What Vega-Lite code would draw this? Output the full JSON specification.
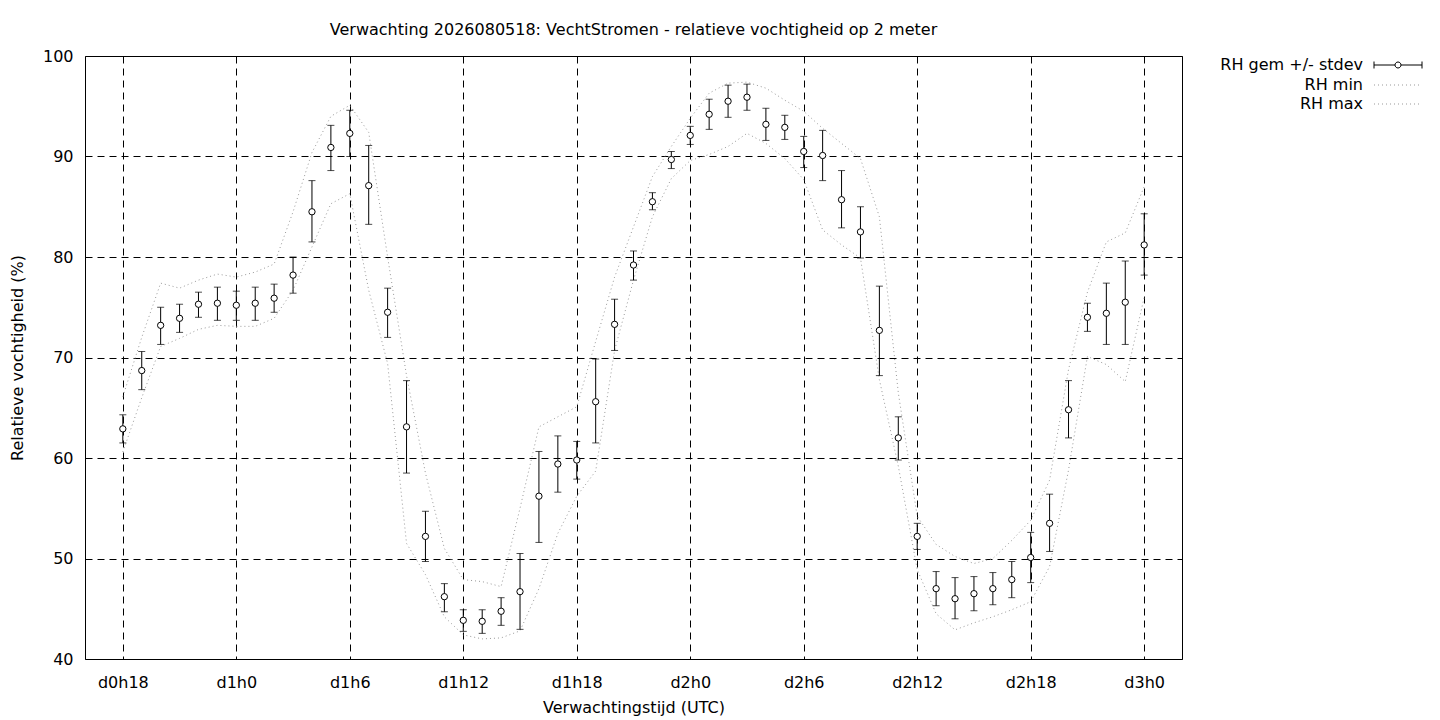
{
  "$schema": "https://vega.github.io/schema/vega-lite/v6.json",
  "width": 1097,
  "height": 603,
  "autosize": {"type": "none"},
  "padding": {"left": 85, "top": 56, "right": 258, "bottom": 61},
  "background": "white",
  "config": {
    "font": "DejaVu Sans",
    "view": {"stroke": "black", "strokeWidth": 1},
    "axis": {
      "domain": false,
      "ticks": false,
      "grid": true,
      "gridColor": "black",
      "gridDash": [7, 5],
      "gridWidth": 1,
      "gridOpacity": 1,
      "labelFontSize": 16,
      "labelColor": "black",
      "titleFontSize": 16,
      "titleFontWeight": "normal",
      "titleColor": "black"
    },
    "legend": {
      "title": null,
      "orient": "none",
      "padding": 0,
      "symbolSize": 100,
      "symbolStrokeWidth": 1,
      "symbolOpacity": 1,
      "labelFontSize": 16,
      "labelColor": "black",
      "labelAlign": "right",
      "labelOffset": -43,
      "rowPadding": 3
    }
  },
  "title": {
    "text": "Verwachting 2026080518: VechtStromen - relatieve vochtigheid op 2 meter",
    "fontSize": 16,
    "fontWeight": "normal",
    "anchor": "middle",
    "frame": "group",
    "offset": 10,
    "color": "black"
  },
  "data": {
    "values": [
      {"hour": 18, "gem": 62.9, "lo": 61.5, "hi": 64.3, "rhmin": 60.6, "rhmax": 66.1},
      {"hour": 19, "gem": 68.7, "lo": 66.8, "hi": 70.6, "rhmin": 66.0, "rhmax": 72.0},
      {"hour": 20, "gem": 73.2, "lo": 71.3, "hi": 75.0, "rhmin": 71.1, "rhmax": 77.4},
      {"hour": 21, "gem": 73.9, "lo": 72.5, "hi": 75.3, "rhmin": 71.9, "rhmax": 76.9},
      {"hour": 22, "gem": 75.3, "lo": 74.0, "hi": 76.5, "rhmin": 72.8, "rhmax": 77.7},
      {"hour": 23, "gem": 75.4, "lo": 73.7, "hi": 77.0, "rhmin": 73.2, "rhmax": 78.3},
      {"hour": 24, "gem": 75.2, "lo": 73.7, "hi": 76.6, "rhmin": 73.1, "rhmax": 78.0},
      {"hour": 25, "gem": 75.4, "lo": 73.7, "hi": 77.0, "rhmin": 73.1, "rhmax": 78.5},
      {"hour": 26, "gem": 75.9, "lo": 74.5, "hi": 77.3, "rhmin": 73.9, "rhmax": 79.3},
      {"hour": 27, "gem": 78.2, "lo": 76.4, "hi": 80.0, "rhmin": 76.7, "rhmax": 84.5},
      {"hour": 28, "gem": 84.5, "lo": 81.5, "hi": 87.6, "rhmin": 81.0, "rhmax": 90.4},
      {"hour": 29, "gem": 90.9, "lo": 88.6, "hi": 93.1, "rhmin": 85.3, "rhmax": 94.0},
      {"hour": 30, "gem": 92.3, "lo": 90.0, "hi": 94.6, "rhmin": 86.3, "rhmax": 95.1},
      {"hour": 31, "gem": 87.1, "lo": 83.25, "hi": 91.1, "rhmin": 76.7, "rhmax": 92.4},
      {"hour": 32, "gem": 74.5, "lo": 72.0, "hi": 76.9, "rhmin": 69.4, "rhmax": 80.0},
      {"hour": 33, "gem": 63.1, "lo": 58.5, "hi": 67.7, "rhmin": 51.5, "rhmax": 68.2},
      {"hour": 34, "gem": 52.2, "lo": 49.7, "hi": 54.7, "rhmin": 48.4, "rhmax": 58.5},
      {"hour": 35, "gem": 46.2, "lo": 44.7, "hi": 47.5, "rhmin": 44.2, "rhmax": 51.0},
      {"hour": 36, "gem": 43.85, "lo": 42.75, "hi": 44.9, "rhmin": 42.4, "rhmax": 47.9},
      {"hour": 37, "gem": 43.75, "lo": 42.55, "hi": 44.9, "rhmin": 42.0, "rhmax": 47.7},
      {"hour": 38, "gem": 44.75, "lo": 43.35, "hi": 46.1, "rhmin": 42.1, "rhmax": 47.2},
      {"hour": 39, "gem": 46.7, "lo": 42.95, "hi": 50.5, "rhmin": 42.8, "rhmax": 55.0},
      {"hour": 40, "gem": 56.2, "lo": 51.6, "hi": 60.65, "rhmin": 47.0, "rhmax": 63.1},
      {"hour": 41, "gem": 59.4, "lo": 56.6, "hi": 62.2, "rhmin": 52.5, "rhmax": 64.1},
      {"hour": 42, "gem": 59.8, "lo": 57.9, "hi": 61.65, "rhmin": 56.2, "rhmax": 65.1},
      {"hour": 43, "gem": 65.6, "lo": 61.5, "hi": 69.85, "rhmin": 58.7, "rhmax": 71.6},
      {"hour": 44, "gem": 73.3, "lo": 70.7, "hi": 75.8, "rhmin": 70.7, "rhmax": 78.0},
      {"hour": 45, "gem": 79.2, "lo": 77.7, "hi": 80.6, "rhmin": 77.7, "rhmax": 83.0},
      {"hour": 46, "gem": 85.5, "lo": 84.7, "hi": 86.4, "rhmin": 84.0, "rhmax": 88.0},
      {"hour": 47, "gem": 89.7, "lo": 88.8, "hi": 90.5, "rhmin": 87.8, "rhmax": 91.0},
      {"hour": 48, "gem": 92.1, "lo": 91.2, "hi": 93.0, "rhmin": 89.6, "rhmax": 93.8},
      {"hour": 49, "gem": 94.2, "lo": 92.7, "hi": 95.7, "rhmin": 90.2, "rhmax": 96.3},
      {"hour": 50, "gem": 95.5, "lo": 93.9, "hi": 97.1, "rhmin": 91.0, "rhmax": 97.3},
      {"hour": 51, "gem": 95.9, "lo": 94.6, "hi": 97.2, "rhmin": 92.3, "rhmax": 97.4},
      {"hour": 52, "gem": 93.2, "lo": 91.6, "hi": 94.8, "rhmin": 91.3, "rhmax": 96.8},
      {"hour": 53, "gem": 92.9, "lo": 91.7, "hi": 94.1, "rhmin": 89.8, "rhmax": 95.6},
      {"hour": 54, "gem": 90.5, "lo": 88.9, "hi": 92.0, "rhmin": 87.7, "rhmax": 94.5},
      {"hour": 55, "gem": 90.1, "lo": 87.6, "hi": 92.6, "rhmin": 82.7, "rhmax": 92.8},
      {"hour": 56, "gem": 85.7, "lo": 82.9, "hi": 88.6, "rhmin": 81.2, "rhmax": 91.3},
      {"hour": 57, "gem": 82.5, "lo": 79.9, "hi": 85.0, "rhmin": 79.9, "rhmax": 89.8},
      {"hour": 58, "gem": 72.7, "lo": 68.2, "hi": 77.1, "rhmin": 67.8, "rhmax": 84.0},
      {"hour": 59, "gem": 62.0, "lo": 59.8, "hi": 64.1, "rhmin": 59.2, "rhmax": 66.5},
      {"hour": 60, "gem": 52.2, "lo": 50.9, "hi": 53.5, "rhmin": 48.9, "rhmax": 54.2},
      {"hour": 61, "gem": 47.0, "lo": 45.3, "hi": 48.7, "rhmin": 44.5, "rhmax": 51.4},
      {"hour": 62, "gem": 46.0, "lo": 44.0, "hi": 48.1, "rhmin": 42.9, "rhmax": 50.2},
      {"hour": 63, "gem": 46.5, "lo": 44.8, "hi": 48.2, "rhmin": 43.6, "rhmax": 49.5},
      {"hour": 64, "gem": 47.0, "lo": 45.4, "hi": 48.6, "rhmin": 44.2, "rhmax": 50.0},
      {"hour": 65, "gem": 47.9, "lo": 46.1, "hi": 49.7, "rhmin": 44.9, "rhmax": 51.8},
      {"hour": 66, "gem": 50.1, "lo": 47.6, "hi": 52.6, "rhmin": 45.7, "rhmax": 53.8},
      {"hour": 67, "gem": 53.5, "lo": 50.7, "hi": 56.4, "rhmin": 49.2, "rhmax": 57.8},
      {"hour": 68, "gem": 64.8, "lo": 62.0, "hi": 67.7, "rhmin": 58.8, "rhmax": 68.8},
      {"hour": 69, "gem": 74.0, "lo": 72.6, "hi": 75.4, "rhmin": 70.1, "rhmax": 76.5},
      {"hour": 70, "gem": 74.4, "lo": 71.3, "hi": 77.4, "rhmin": 69.3, "rhmax": 81.5},
      {"hour": 71, "gem": 75.5, "lo": 71.3, "hi": 79.6, "rhmin": 67.6, "rhmax": 82.4},
      {"hour": 72, "gem": 81.2, "lo": 78.2, "hi": 84.3, "rhmin": 76.0, "rhmax": 87.0}
    ]
  },
  "layer": [
    {
      "transform": [{"fold": ["rhmin", "rhmax"], "as": ["series", "value"]}],
      "mark": {"type": "line", "strokeDash": [1, 3], "strokeWidth": 1},
      "encoding": {
        "x": {
          "field": "hour",
          "type": "quantitative",
          "title": "Verwachtingstijd (UTC)",
          "scale": {"domain": [16, 74], "nice": false, "zero": false},
          "axis": {
            "values": [18, 24, 30, 36, 42, 48, 54, 60, 66, 72],
            "labelExpr": "'d' + floor(datum.value / 24) + 'h' + (datum.value % 24)",
            "labelPadding": 15,
            "titlePadding": 9,
            "labelFlush": false
          }
        },
        "y": {
          "field": "value",
          "type": "quantitative",
          "title": "Relatieve vochtigheid (%)",
          "scale": {"domain": [40, 100], "nice": false, "zero": false},
          "axis": {
            "values": [40, 50, 60, 70, 80, 90, 100],
            "labelPadding": 12,
            "titlePadding": 17
          }
        },
        "color": {
          "field": "series",
          "type": "nominal",
          "scale": {"domain": ["rhmin", "rhmax"], "range": ["#999999", "#999999"]},
          "legend": {
            "legendX": 1305,
            "legendY": 21,
            "symbolType": "M-4.8,0L4.8,0",
            "symbolDash": [1, 3],
            "labelExpr": "datum.value == 'rhmin' ? 'RH min' : 'RH max'"
          }
        }
      }
    },
    {
      "mark": {"type": "errorbar", "color": "black", "ticks": {"size": 7}},
      "encoding": {
        "x": {"field": "hour", "type": "quantitative", "title": "Verwachtingstijd (UTC)"},
        "y": {"field": "lo", "type": "quantitative", "title": "Relatieve vochtigheid (%)"},
        "y2": {"field": "hi"}
      }
    },
    {
      "mark": {"type": "point", "shape": "circle", "filled": true, "stroke": "black", "strokeWidth": 1, "size": 40, "opacity": 1},
      "encoding": {
        "x": {"field": "hour", "type": "quantitative", "title": "Verwachtingstijd (UTC)"},
        "y": {"field": "gem", "type": "quantitative", "title": "Relatieve vochtigheid (%)"},
        "fill": {
          "datum": "RH gem +/- stdev",
          "type": "nominal",
          "scale": {"range": ["white"]},
          "legend": {
            "legendX": 1305,
            "legendY": 1,
            "symbolType": "M-4.8,-0.7L-4.8,0.7M-4.8,0L-0.6,0M0.6,0L4.8,0M4.8,-0.7L4.8,0.7M0.6,0A0.6,0.6,0,1,1,-0.6,0A0.6,0.6,0,1,1,0.6,0",
            "symbolStrokeColor": "black",
            "symbolFillColor": "white"
          }
        }
      }
    }
  ]
}
